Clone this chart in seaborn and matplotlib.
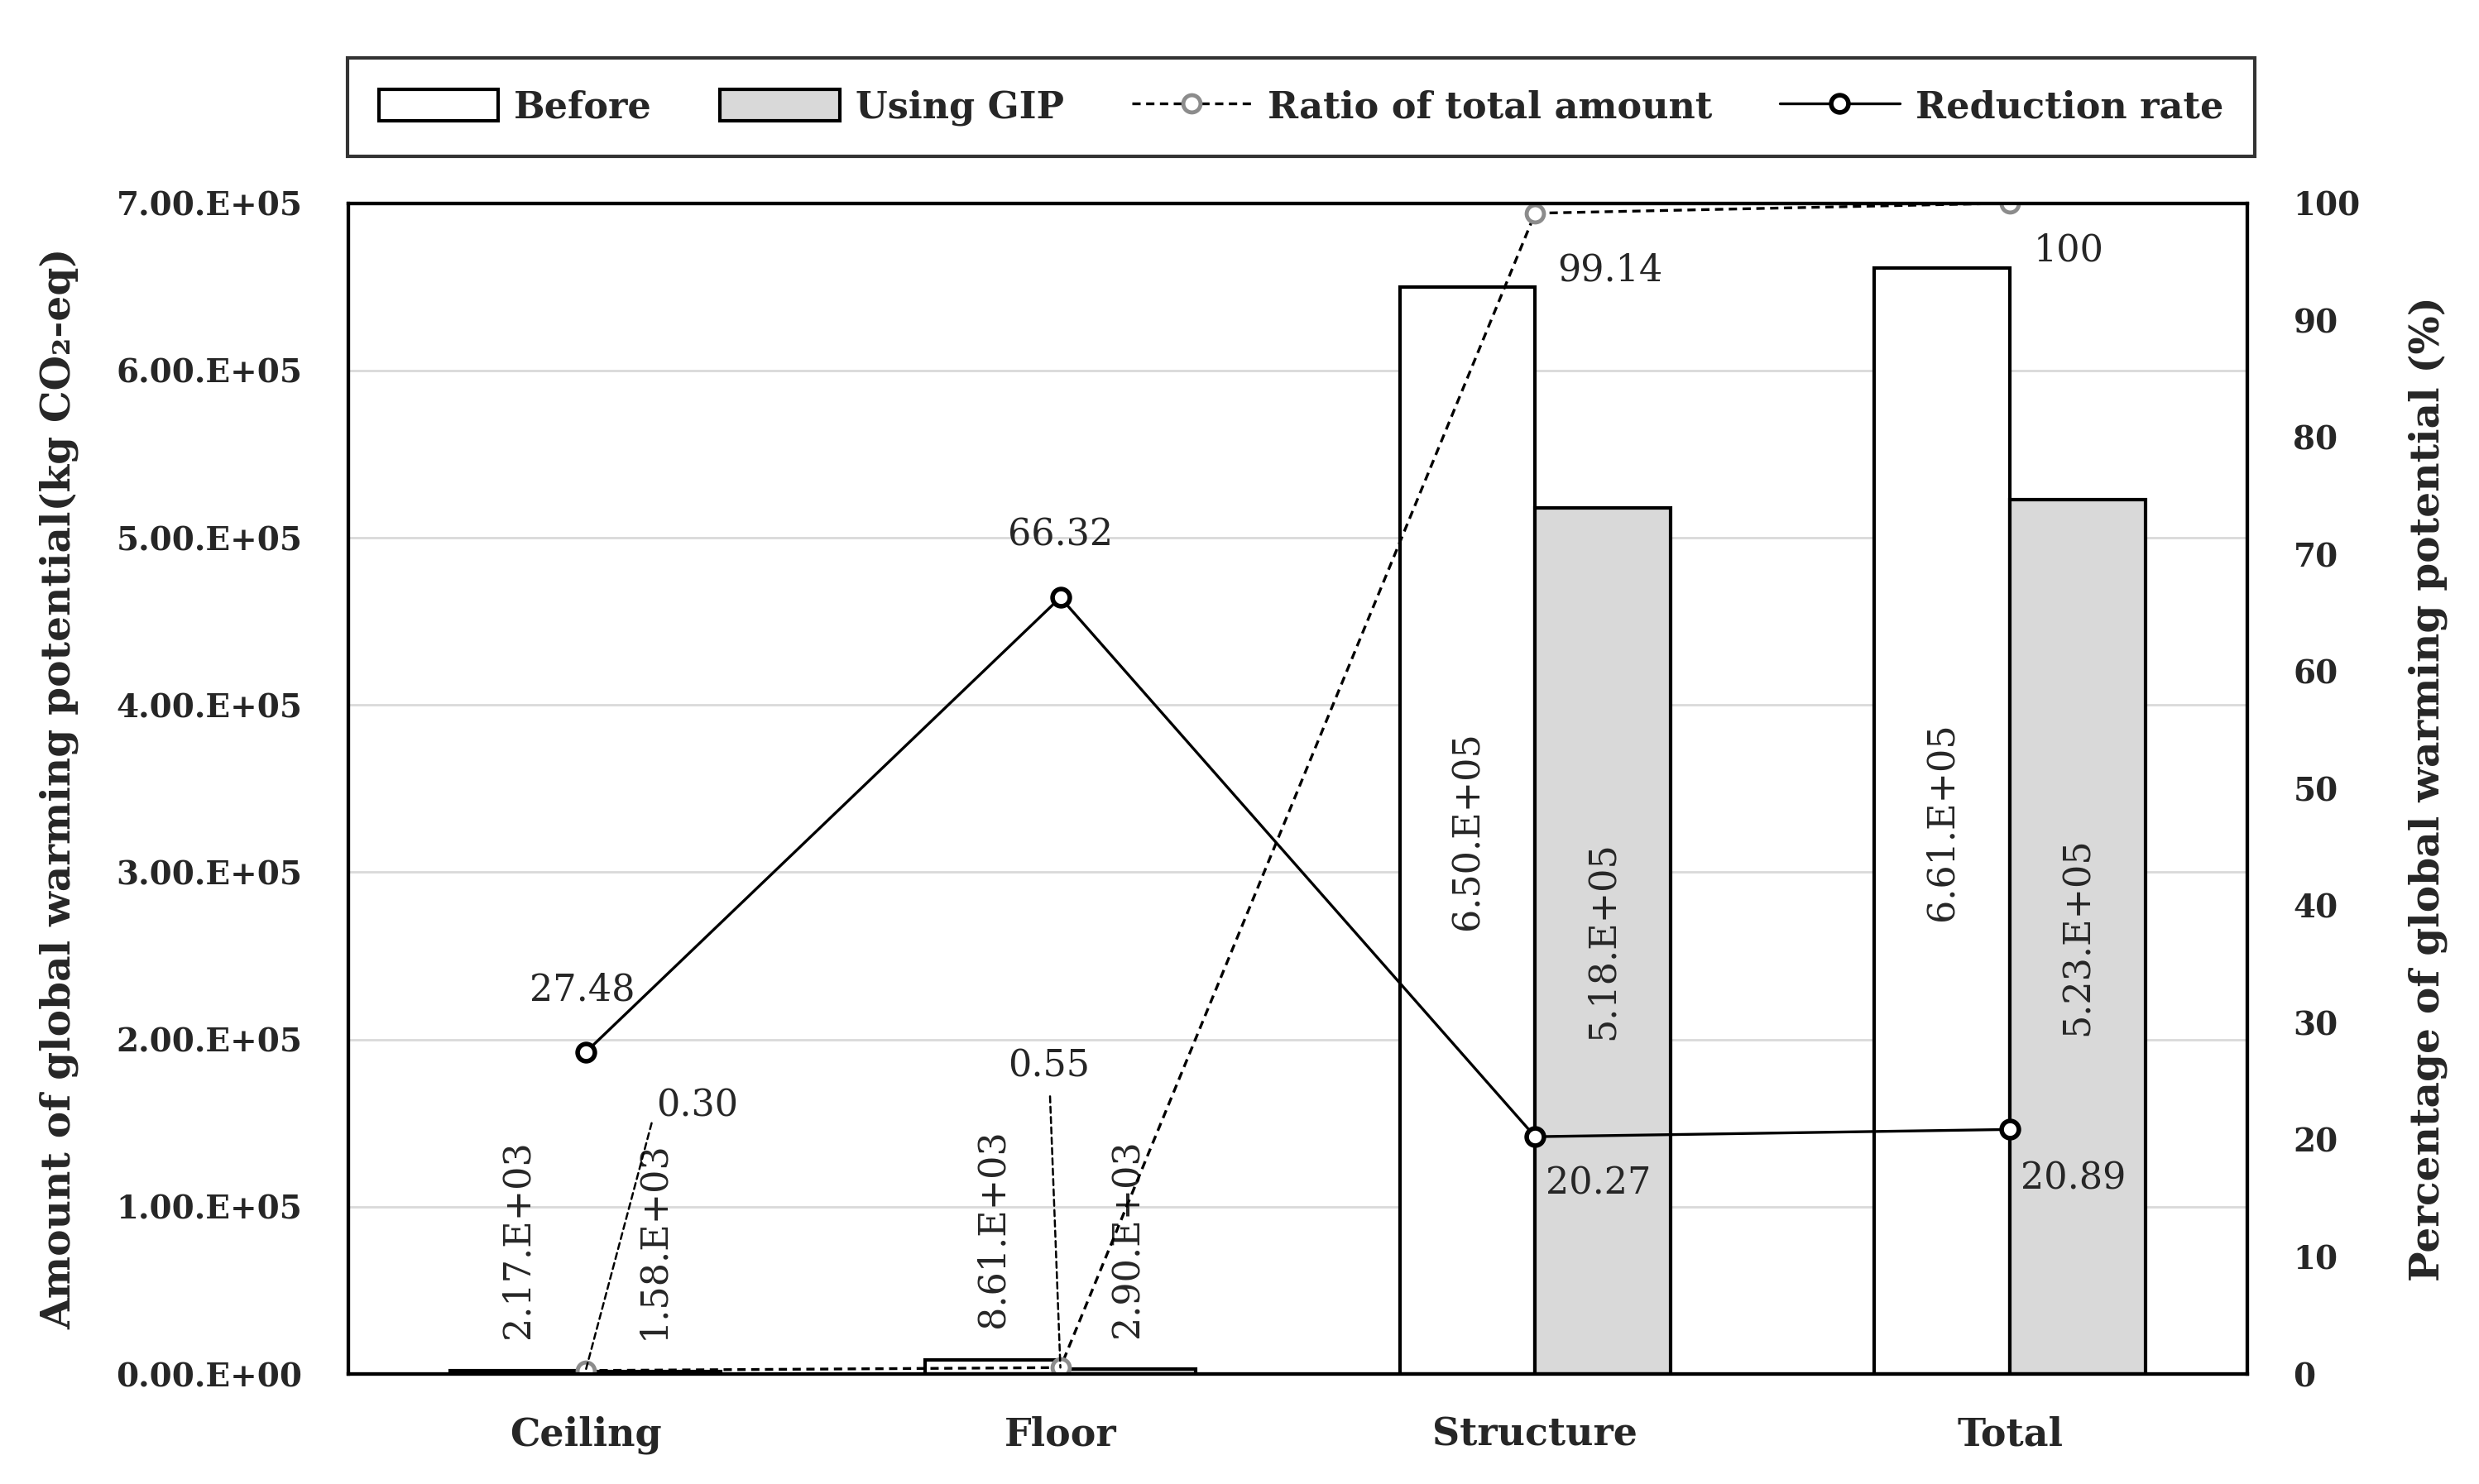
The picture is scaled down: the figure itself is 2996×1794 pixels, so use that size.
import numpy as np
import pandas as pd
import matplotlib
matplotlib.use('Agg')
import matplotlib.pyplot as plt
import seaborn as sns
from matplotlib.patches import Patch
from matplotlib.lines import Line2D

sns.set_style('white')
plt.rcParams['font.family'] = ['DejaVu Serif']

# Data
categories = ['Ceiling', 'Floor', 'Structure', 'Total']
before = [2.17e3, 8.61e3, 6.50e5, 6.61e5]
using_gip = [1.58e3, 2.90e3, 5.18e5, 5.23e5]
ratio_total = [0.30, 0.55, 99.14, 100]
reduction_rate = [27.48, 66.32, 20.27, 20.89]
ratio_lbls = ['0.30', '0.55', '99.14', '100']
reduction_lbls = ['27.48', '66.32', '20.27', '20.89']


def sci_lbl(v):
    if v == 0:
        return '0.00.E+00'
    e = int(np.floor(np.log10(abs(v))))
    return f'{v / 10**e:.2f}.E{e:+03d}'


df = pd.DataFrame({
    'Category': categories * 2,
    'Series': ['Before'] * 4 + ['Using GIP'] * 4,
    'Value': before + using_gip,
})
df_line = pd.DataFrame({'Category': categories, 'Ratio': ratio_total,
                        'Reduction': reduction_rate})

fig = plt.figure(figsize=(29.96, 17.94), dpi=100)
ax = fig.add_axes([0.1405, 0.0741, 0.766, 0.789])

sns.barplot(data=df, x='Category', y='Value', hue='Series', order=categories,
            palette={'Before': 'white', 'Using GIP': '#D9D9D9'},
            edgecolor='black', linewidth=3, width=0.57, ax=ax, legend=False)

ax.set_ylim(0, 7e5)
ax.set_yticks(np.arange(0, 7.01e5, 1e5))
ax.set_yticklabels([sci_lbl(v) for v in np.arange(0, 7.01e5, 1e5)],
                   fontsize=28, fontweight='bold')
ax.set_xticks(range(len(categories)))
ax.set_xticklabels(categories, fontsize=33, fontweight='bold')
ax.tick_params(axis='y', length=0, pad=40)
ax.tick_params(axis='x', length=0, pad=36)
ax.set_xlabel('')
ax.set_ylabel('Amount of global warming potential(kg CO₂-eq)', fontsize=35,
              fontweight='bold')
ax.yaxis.set_label_coords(-0.142, 0.5)
ax.yaxis.grid(True, color='#D9D9D9', lw=2)
ax.set_axisbelow(True)
for s in ax.spines.values():
    s.set_visible(True)
    s.set_color('black')
    s.set_linewidth(3)

# bar value labels
for cont in ax.containers:
    for bar in cont:
        h = bar.get_height()
        xc = bar.get_x() + bar.get_width() / 2
        if h > 1e5:
            ax.text(xc, h / 2, sci_lbl(h), rotation=90, ha='center', va='center',
                    fontsize=32)
        else:
            ax.text(xc, h + 0.19e5, sci_lbl(h), rotation=90, ha='center',
                    va='bottom', fontsize=32)

# secondary axis with lines
ax2 = ax.twinx()
sns.pointplot(data=df_line, x='Category', y='Ratio', order=categories, ax=ax2,
              color='black', linestyle=(0, (3, 2)), linewidth=2.4, marker='o',
              markersize=15, markerfacecolor='white', markeredgecolor='#8C8C8C',
              markeredgewidth=3.5)
sns.pointplot(data=df_line, x='Category', y='Reduction', order=categories, ax=ax2,
              color='black', linestyle='-', linewidth=2.4, marker='o',
              markersize=15, markerfacecolor='white', markeredgecolor='black',
              markeredgewidth=4)
ax2.set_xlim(-0.5, 3.5)
ax2.set_ylim(0, 100)
ax2.set_yticks(np.arange(0, 101, 10))
ax2.set_yticklabels([str(v) for v in range(0, 101, 10)], fontsize=28,
                    fontweight='bold')
ax2.tick_params(axis='y', length=0, pad=40)
ax2.set_xlabel('')
ax2.set_ylabel('Percentage of global warming potential (%)', fontsize=35,
               fontweight='bold')
ax2.yaxis.set_label_coords(1.085, 0.5)
ax2.grid(False)
for s in ax2.spines.values():
    s.set_visible(True)
    s.set_color('black')
    s.set_linewidth(3)

# line labels
red_offsets = [(-3, 54), (0, 54), (55, -41), (55, -43)]
for i, (v, t) in enumerate(zip(reduction_rate, reduction_lbls)):
    ax2.annotate(t, xy=(i, v), xytext=red_offsets[i], textcoords='offset points',
                 ha='center', va='center', fontsize=32)

ratio_offsets = [(97, 230), (-10, 262), (65, -50), (51, -41)]
for i, (v, t) in enumerate(zip(ratio_total, ratio_lbls)):
    if i == 0:
        ax2.annotate(t, xy=(i, v), xytext=ratio_offsets[i],
                     textcoords='offset points', ha='center', va='center',
                     fontsize=32,
                     arrowprops=dict(arrowstyle='-', ls=(0, (3, 2)), lw=1.8,
                                     color='black', shrinkA=6, shrinkB=0,
                                     relpos=(0, 0.5)))
    elif i == 1:
        ax2.annotate(t, xy=(i, v), xytext=ratio_offsets[i],
                     textcoords='offset points', ha='center', va='center',
                     fontsize=32,
                     arrowprops=dict(arrowstyle='-', ls=(0, (3, 2)), lw=1.8,
                                     color='black', shrinkA=8, shrinkB=0))
    else:
        ax2.annotate(t, xy=(i, v), xytext=ratio_offsets[i],
                     textcoords='offset points', ha='center', va='center',
                     fontsize=32)

# legend
handles = [
    Patch(facecolor='white', edgecolor='black', linewidth=3, label='Before'),
    Patch(facecolor='#D9D9D9', edgecolor='black', linewidth=3, label='Using GIP'),
    Line2D([], [], color='black', ls=(0, (3, 2)), lw=2.4, marker='o', ms=15,
           mfc='white', mec='#8C8C8C', mew=3.5, label='Ratio of total amount'),
    Line2D([], [], color='black', ls='-', lw=2.4, marker='o', ms=15,
           mfc='white', mec='black', mew=4, label='Reduction rate'),
]
leg = fig.legend(handles=handles, loc='upper left', ncol=4, mode='expand',
                 bbox_to_anchor=(0.1402, 0.961, 0.7693, 0.0),
                 prop={'size': 32, 'weight': 'bold'}, frameon=True, fancybox=False,
                 handlelength=3.25, handleheight=0.95, handletextpad=0.43,
                 borderaxespad=0, borderpad=0.85, columnspacing=0.8)
leg.get_frame().set_edgecolor('black')
leg.get_frame().set_linewidth(3)

fig.savefig('out.png', dpi=100)
